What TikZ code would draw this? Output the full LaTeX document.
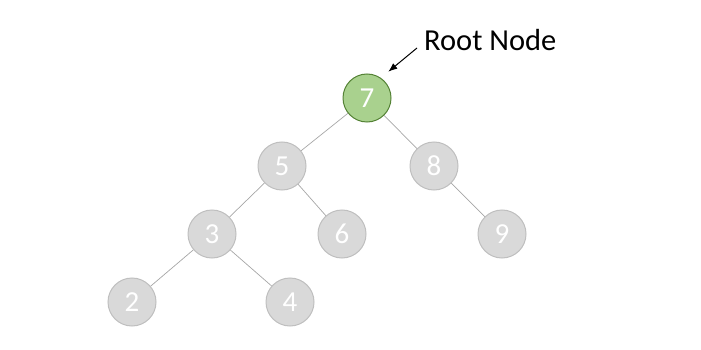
\documentclass[tikz,border=0pt]{standalone}
\usepackage{fontspec}
\setmainfont{Carlito}
\usetikzlibrary{arrows.meta}
\definecolor{nodegray}{HTML}{D9D9D9}
\definecolor{nodeedge}{HTML}{BFBFBF}
\definecolor{rootfill}{HTML}{A9D18E}
\definecolor{rootedge}{HTML}{548235}
\definecolor{linkc}{HTML}{A6A6A6}
\tikzset{
  tnode/.style={circle, draw=nodeedge, fill=nodegray, line width=1pt, minimum size=48pt,
                inner sep=0pt, text=white, font=\fontsize{29}{29}\selectfont},
  rootnode/.style={tnode, draw=rootedge, fill=rootfill},
  link/.style={draw=linkc, line width=0.7pt},
  arr/.style={-{Latex[length=9pt,width=7pt]}, line width=1pt, draw=black},
  lbl/.style={font=\fontsize{30.5}{30.5}\selectfont, inner sep=0pt},
}
\begin{document}
\begin{tikzpicture}[x=1pt,y=-1pt]
  \useasboundingbox (0,0) rectangle (701,350);
  \node[rootnode] (n7) at (367,98) {7};
  \node[tnode] (n5) at (282,166) {5};
  \node[tnode] (n8) at (434,166) {8};
  \node[tnode] (n3) at (212,234) {3};
  \node[tnode] (n6) at (342,234) {6};
  \node[tnode] (n9) at (502,234) {9};
  \node[tnode] (n2) at (132,302) {2};
  \node[tnode] (n4) at (290,302) {4};
  \node[lbl, anchor=west] (rootlbl) at (424,40) {Root Node};

  \draw[link] (n7) -- (n5);
  \draw[link] (n7) -- (n8);
  \draw[link] (n5) -- (n3);
  \draw[link] (n5) -- (n6);
  \draw[link] (n8) -- (n9);
  \draw[link] (n3) -- (n2);
  \draw[link] (n3) -- (n4);
  \draw[arr] ([xshift=-7pt,yshift=-8pt]rootlbl.west) -- ([xshift=4pt,yshift=9pt]n7.north east);
\end{tikzpicture}
\end{document}
